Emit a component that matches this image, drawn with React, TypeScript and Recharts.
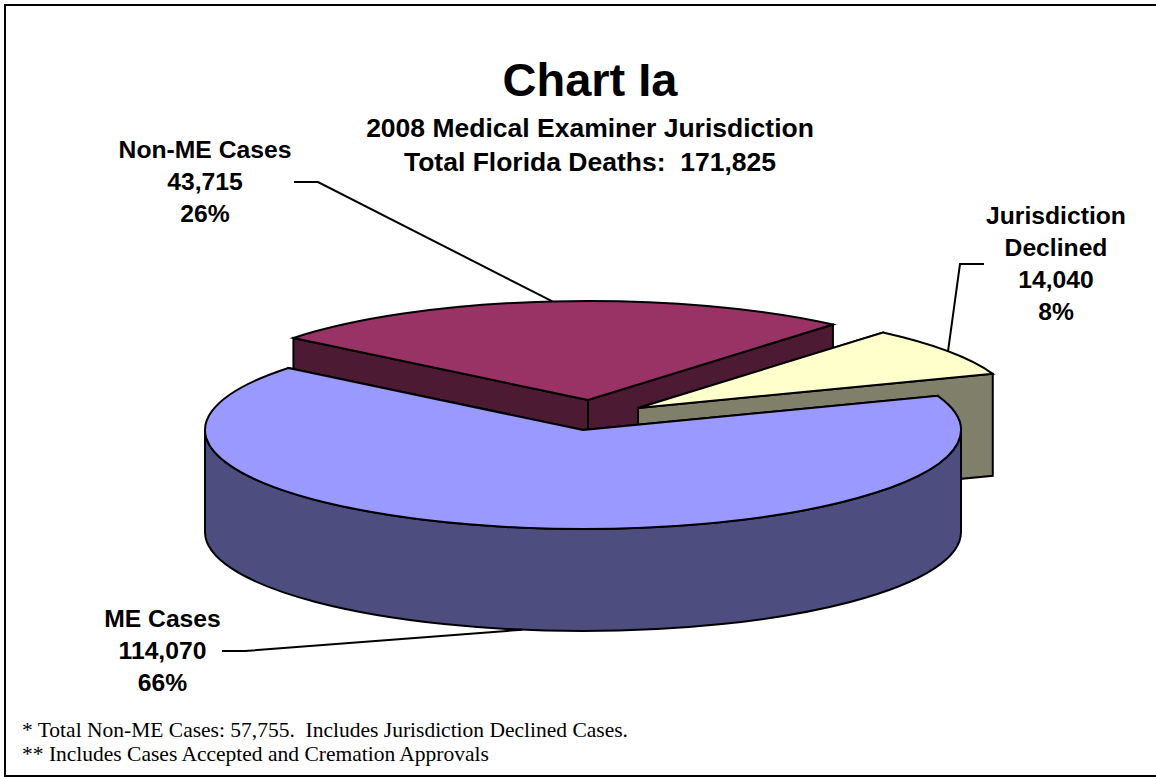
import { Pie, PieChart } from 'recharts';

const categories = ['Non-ME Cases', 'Jurisdiction Declined', 'ME Cases'];
const caseCounts = [43715, 14040, 114070];
const percentLabels = ['26%', '8%', '66%'];
const subtitleLines = ['2008 Medical Examiner Jurisdiction', 'Total Florida Deaths:  171,825'];
const footnotes = [
  '* Total Non-ME Cases: 57,755.  Includes Jurisdiction Declined Cases.',
  '** Includes Cases Accepted and Cremation Approvals',
];

const chartData = categories.map((name, i) => ({
  name,
  value: caseCounts[i],
  percentLabel: percentLabels[i],
}));

const TILT = 0.262;
const DEPTH = 102;
const ARIAL = '"Liberation Sans", Arial, sans-serif';
const SERIF = '"Liberation Serif", "Times New Roman", serif';

const sliceStyles: Record<string, { top: string; side: string; dx: number; dy: number }> = {
  'Non-ME Cases': { top: '#993366', side: '#4D1A33', dx: 5, dy: -30 },
  'Jurisdiction Declined': { top: '#FFFFCC', side: '#80806A', dx: 55, dy: -22 },
  'ME Cases': { top: '#9999FF', side: '#4D4D80', dx: 0, dy: 0 },
};

// label block centre, first baseline and where the leader line leaves the text
const labelStyles: Record<string, { x: number; y: number; lineY: number; lineFrom: number; lineBend: number; depth: number }> = {
  'Non-ME Cases': { x: 205, y: 158, lineY: 182, lineFrom: 294, lineBend: 318, depth: 0 },
  'Jurisdiction Declined': { x: 1056, y: 224, lineY: 264, lineFrom: 984, lineBend: 960, depth: 0 },
  'ME Cases': { x: 162.5, y: 627, lineY: 651, lineFrom: 222, lineBend: 245, depth: DEPTH },
};

const RAD = Math.PI / 180;

function SliceShape(props: any) {
  const { cx, cy, outerRadius: r, startAngle, endAngle, name } = props;
  const style = sliceStyles[name];
  const ax = cx + style.dx;
  const ay = cy + style.dy;
  const ry = r * TILT;
  const px = (a: number) => ax + r * Math.cos(a * RAD);
  const py = (a: number) => ay - ry * Math.sin(a * RAD);
  const hi = Math.max(startAngle, endAngle);
  const lo = Math.min(startAngle, endAngle);
  const large = hi - lo > 180 ? 1 : 0;

  const radial = (a: number) =>
    `M${ax},${ay} L${px(a)},${py(a)} L${px(a)},${py(a) + DEPTH} L${ax},${ay + DEPTH} Z`;

  // only the part of the rim facing the viewer gets a wall
  const walls: string[] = [];
  for (const k of [-1, 0, 1]) {
    const a1 = Math.min(hi, 360 * k);
    const a2 = Math.max(lo, 360 * k - 180);
    if (a1 > a2) {
      walls.push(
        `M${px(a1)},${py(a1)} A${r},${ry} 0 0 1 ${px(a2)},${py(a2)} ` +
          `L${px(a2)},${py(a2) + DEPTH} A${r},${ry} 0 0 0 ${px(a1)},${py(a1) + DEPTH} Z`,
      );
    }
  }

  const common = { stroke: '#000', strokeWidth: 2, strokeLinejoin: 'miter' as const };
  return (
    <g>
      <path d={radial(hi)} fill={style.side} {...common} />
      <path d={radial(lo)} fill={style.side} {...common} />
      {walls.map((d) => (
        <path key={d} d={d} fill={style.side} {...common} />
      ))}
      <path
        d={`M${ax},${ay} L${px(hi)},${py(hi)} A${r},${ry} 0 ${large} 1 ${px(lo)},${py(lo)} Z`}
        fill={style.top}
        {...common}
      />
    </g>
  );
}

function SliceLabel(props: any) {
  const { cx, cy, outerRadius: r, midAngle, name, value, payload } = props;
  const slice = sliceStyles[name];
  const label = labelStyles[name];
  const endX = cx + slice.dx + r * Math.cos(midAngle * RAD);
  const endY = cy + slice.dy - r * TILT * Math.sin(midAngle * RAD) + label.depth;
  const nameLines = name === 'Jurisdiction Declined' ? name.split(' ') : [name];
  const lines = [...nameLines, value.toLocaleString('en-US'), payload.percentLabel];
  return (
    <g>
      <polyline
        points={`${label.lineFrom},${label.lineY} ${label.lineBend},${label.lineY} ${endX},${endY}`}
        fill="none"
        stroke="#000"
        strokeWidth={2}
      />
      {lines.map((line: string, i: number) => (
        <text
          key={line}
          x={label.x}
          y={label.y + i * 32}
          textAnchor="middle"
          fontFamily={ARIAL}
          fontWeight="bold"
          fontSize={24.7}
          fill="#000"
        >
          {line}
        </text>
      ))}
    </g>
  );
}

export default function App() {
  return (
    <div style={{ position: 'absolute', left: 0, top: 0, width: 1156, height: 777, overflow: 'hidden' }}>
      <PieChart width={1156} height={777} margin={{ top: 0, right: 0, bottom: 0, left: 0 }}>
        {/* right edge of the frame falls outside the picture */}
        <rect x={5} y={5} width={1160} height={771} fill="#fff" stroke="#000" strokeWidth={2} />
        <text x={590} y={96} textAnchor="middle" fontFamily={ARIAL} fontWeight="bold" fontSize={47} fill="#000">
          Chart Ia
        </text>
        {subtitleLines.map((line, i) => (
          <text
            key={line}
            x={590}
            y={137 + i * 33.5}
            textAnchor="middle"
            fontFamily={ARIAL}
            fontWeight="bold"
            fontSize={26.5}
            fill="#000"
            style={{ whiteSpace: 'pre' }}
          >
            {line}
          </text>
        ))}
        <Pie
          data={chartData}
          dataKey="value"
          nameKey="name"
          cx={583}
          cy={430}
          innerRadius={0}
          outerRadius={378}
          startAngle={141.2}
          endAngle={-218.8}
          paddingAngle={0}
          shape={SliceShape}
          label={SliceLabel}
          labelLine={false}
          isAnimationActive={false}
        />
        {footnotes.map((line, i) => (
          <text
            key={line}
            x={22}
            y={737 + i * 24}
            fontFamily={SERIF}
            fontSize={21.5}
            fill="#000"
            style={{ whiteSpace: 'pre' }}
          >
            {line}
          </text>
        ))}
      </PieChart>
    </div>
  );
}
